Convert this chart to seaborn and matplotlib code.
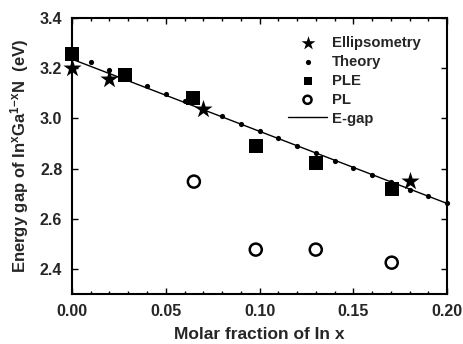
import matplotlib
matplotlib.use("Agg")
import matplotlib.pyplot as plt
import seaborn as sns
import pandas as pd
import numpy as np
from matplotlib.ticker import MultipleLocator

sns.set_theme(style="ticks")
plt.rcParams['font.family'] = ['Liberation Sans', 'DejaVu Sans']
plt.rcParams['font.weight'] = 'bold'
plt.rcParams['mathtext.fontset'] = 'custom'
plt.rcParams['mathtext.bf'] = 'Liberation Sans:bold'
plt.rcParams['mathtext.rm'] = 'Liberation Sans:bold'
plt.rcParams['mathtext.default'] = 'bf'

# Data
ell_x = [0.0, 0.0195, 0.070, 0.180]
ell_y = [3.199, 3.155, 3.036, 2.749]

theory_x = [0.00, 0.01, 0.02, 0.03, 0.04, 0.05, 0.06, 0.07, 0.08, 0.09, 0.10,
            0.11, 0.12, 0.13, 0.14, 0.15, 0.16, 0.17, 0.18, 0.19, 0.20]
theory_y = [3.240, 3.224, 3.192, 3.162, 3.131, 3.097, 3.069, 3.038, 3.008, 2.979, 2.949,
            2.921, 2.889, 2.861, 2.832, 2.803, 2.775, 2.745, 2.716, 2.692, 2.663]

ple_x = [0.0, 0.0285, 0.0647, 0.098, 0.130, 0.1705]
ple_y = [3.255, 3.172, 3.083, 2.889, 2.823, 2.718]

pl_x = [0.065, 0.098, 0.130, 0.1705]
pl_y = [2.748, 2.477, 2.477, 2.425]

egap_x = [0.0, 0.20]
egap_y = [3.236, 2.661]

fig = plt.figure(figsize=(4.63, 3.44), dpi=100)
ax = fig.add_axes([0.1555, 0.1453, 0.81, 0.8023])

sns.lineplot(x=egap_x, y=egap_y, ax=ax, color='black', lw=1.0, label='E-gap', zorder=2)
sns.scatterplot(x=theory_x, y=theory_y, ax=ax, color='black', marker='o', s=14,
                edgecolor='black', linewidth=0, label='Theory', zorder=3, clip_on=False)
sns.scatterplot(x=ple_x, y=ple_y, ax=ax, color='black', marker='s', s=90,
                edgecolor='black', linewidth=0, label='PLE', zorder=4, clip_on=False)
sns.scatterplot(x=pl_x, y=pl_y, ax=ax, facecolor='none', marker='o', s=75,
                edgecolor='black', linewidth=1.8, label='PL', zorder=4)
sns.scatterplot(x=ell_x, y=ell_y, ax=ax, color='black', marker='*', s=190,
                edgecolor='black', linewidth=0, label='Ellipsometry', zorder=5, clip_on=False)

ax.set_xlim(0.0, 0.20)
ax.set_ylim(2.3, 3.4)
ax.xaxis.set_major_locator(MultipleLocator(0.05))
ax.xaxis.set_minor_locator(MultipleLocator(0.01))
ax.yaxis.set_major_locator(MultipleLocator(0.2))
ax.xaxis.set_major_formatter(matplotlib.ticker.FormatStrFormatter('%.2f'))
ax.yaxis.set_major_formatter(matplotlib.ticker.FormatStrFormatter('%.1f'))
ax.tick_params(which='both', direction='in', top=True, right=True, color='black')
ax.tick_params(which='major', length=4.5, width=1, labelsize=11.5, pad=7)
ax.tick_params(which='minor', length=2.5, width=1)
for lab in ax.get_xticklabels() + ax.get_yticklabels():
    lab.set_fontweight('bold')
for s in ax.spines.values():
    s.set_color('black')
    s.set_linewidth(1.5)

ax.set_xlabel('Molar fraction of In x', fontsize=12.5, fontweight='bold', labelpad=6)
ax.set_ylabel(r'Energy gap of In$^{\mathbf{x}}$Ga$^{\mathbf{1\!-\!x}}$N  (eV)',
              fontsize=12, fontweight='bold', labelpad=6)

handles, labels = ax.get_legend_handles_labels()
order = ['Ellipsometry', 'Theory', 'PLE', 'PL', 'E-gap']
hl = dict(zip(labels, handles))
leg = ax.legend([hl[k] for k in order], order, loc='upper right', frameon=False,
                prop={'weight': 'bold', 'size': 10.7}, handlelength=2.6,
                handletextpad=0.35, labelspacing=0.33, markerscale=1,
                borderpad=0, borderaxespad=0,
                bbox_to_anchor=(0.93, 0.935))
leg_sizes = {'Ellipsometry': 110, 'Theory': 14, 'PLE': 36, 'PL': 34}
for h, t in zip(leg.legend_handles, leg.get_texts()):
    name = t.get_text()
    if name in leg_sizes and hasattr(h, 'set_sizes'):
        h.set_sizes([leg_sizes[name]])

fig.savefig('out.png', dpi=100)
